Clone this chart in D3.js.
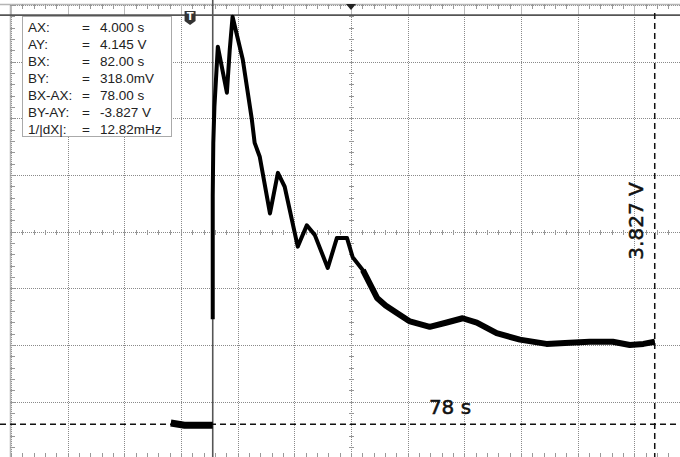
<!DOCTYPE html>
<html lang="en">

<head>
	<meta charset="utf-8">
	<title>Scope capture</title>
	<script type="text/javascript" src="https://cdn.jsdelivr.net/npm/d3@7"></script>
	<style type="text/css">
		body { margin: 0; background: #fff; }
		svg { display: block; }
	</style>
</head>

<body>
	<script type="text/javascript">
		//Width and height
		var w = 680;
		var h = 457;

		// screen: 12 x 8 divisions, 10 s/div, ~0.53 V/div
		var timeStart = -31.6;
		var secPerDiv = 10;
		var voltPerDiv = 0.53;
		var xDivs = 12;
		var yDivs = 8;

		// trace before trigger (s, V)
		var preTime = [-3.4, -1.0, 4.0];
		var preVolt = [0.33, 0.31, 0.31];

		// trace after trigger (s, V)
		var traceTime = [4.0, 4.0, 4.1, 4.3, 4.9, 6.5, 7.0, 7.5, 9.3, 10.9, 11.4, 12.3,
			14.1, 15.5, 16.7, 19.0, 20.6, 22.0, 24.3, 25.9, 27.7, 28.7, 30.5, 33.0,
			34.5, 36.5, 38.8, 42.3, 45.3, 48.1, 50.6, 54.1, 58.2, 62.9, 67.0, 70.5,
			74.6, 77.6, 80.0, 82.0];
		var traceVolt = [1.30, 2.45, 2.95, 3.29, 3.85, 3.42, 3.82, 4.13, 3.73, 3.17, 2.95, 2.82,
			2.29, 2.67, 2.54, 1.98, 2.18, 2.09, 1.78, 2.06, 2.06, 1.88, 1.76, 1.50,
			1.43, 1.36, 1.28, 1.23, 1.27, 1.31, 1.27, 1.17, 1.11, 1.07, 1.08, 1.09,
			1.09, 1.06, 1.07, 1.09];
		// after this time the trace gets noisier (thicker band)
		var noisyFrom = 30.5;

		// cursors
		var cursorA = { t: 4.0, v: 4.145 };
		var cursorB = { t: 82.0, v: 0.318 };

		// readout box
		var readNames = ["AX:", "AY:", "BX:", "BY:", "BX-AX:", "BY-AY:", "1/|dX|:"];
		var readValues = ["4.000 s", "4.145 V", "82.00 s", "318.0mV", "78.00 s", "-3.827 V", "12.82mHz"];

		var deltaTLabel = "78 s";
		var deltaVLabel = "3.827 V";

		// scales
		var xScale = d3.scaleLinear()
			.domain([timeStart, timeStart + xDivs * secPerDiv])
			.range([11, 691]);

		var yScale = d3.scaleLinear()
			.domain([0, yDivs * voltPerDiv])
			.range([458.3, 5]);

		//Create SVG element
		var svg = d3.select("body")
			.append("svg")
			.attr("width", w)
			.attr("height", h);

		var xMajor = d3.range(xDivs + 1).map(function (i) { return timeStart + i * secPerDiv; });
		var yMajor = d3.range(yDivs + 1).map(function (i) { return i * voltPerDiv; });
		var xMinor = d3.range(xDivs * 5 + 1).map(function (i) { return timeStart + i * secPerDiv / 5; });
		var yMinor = d3.range(yDivs * 5 + 1).map(function (i) { return i * voltPerDiv / 5; });

		var xMid = timeStart + xDivs / 2 * secPerDiv;
		var yMid = yDivs / 2 * voltPerDiv;

		// dotted grid
		svg.append("g")
			.selectAll("line")
			.data(xMajor)
			.enter()
			.append("line")
			.attr("x1", function (d) { return Math.round(xScale(d)) + 0.5; })
			.attr("x2", function (d) { return Math.round(xScale(d)) + 0.5; })
			.attr("y1", yScale.range()[1])
			.attr("y2", yScale.range()[0])
			.attr("stroke", "#8a8a8a")
			.attr("stroke-dasharray", "1,1");

		svg.append("g")
			.selectAll("line")
			.data(yMajor)
			.enter()
			.append("line")
			.attr("y1", function (d) { return Math.round(yScale(d)) + 0.5; })
			.attr("y2", function (d) { return Math.round(yScale(d)) + 0.5; })
			.attr("x1", 11)
			.attr("x2", w)
			.attr("stroke", "#8a8a8a")
			.attr("stroke-dasharray", "1,1");

		// border rulers
		svg.append("line")
			.attr("x1", 0).attr("x2", w)
			.attr("y1", 4.5).attr("y2", 4.5)
			.attr("stroke", "#b5b5b5").attr("stroke-width", 1.5);
		svg.append("line")
			.attr("x1", 10.5).attr("x2", 10.5)
			.attr("y1", 4).attr("y2", h)
			.attr("stroke", "#b5b5b5").attr("stroke-width", 1.5);

		// minor ticks: top and bottom edges, centre lines
		var ticks = svg.append("g").attr("stroke", "#999");
		xMinor.forEach(function (d) {
			var x = Math.round(xScale(d)) + 0.5;
			ticks.append("line").attr("x1", x).attr("x2", x).attr("y1", 4).attr("y2", 9);
			ticks.append("line").attr("x1", x).attr("x2", x).attr("y1", 453).attr("y2", 458);
			ticks.append("line").attr("x1", x).attr("x2", x)
				.attr("y1", Math.round(yScale(yMid)) - 2).attr("y2", Math.round(yScale(yMid)) + 3);
		});
		xMajor.forEach(function (d) {
			var x = Math.round(xScale(d)) + 0.5;
			ticks.append("line").attr("x1", x).attr("x2", x).attr("y1", 4).attr("y2", 15).attr("stroke", "#bbb");
		});
		yMinor.forEach(function (d) {
			var y = Math.round(yScale(d)) + 0.5;
			ticks.append("line").attr("y1", y).attr("y2", y).attr("x1", 10).attr("x2", 15);
			ticks.append("line").attr("y1", y).attr("y2", y)
				.attr("x1", Math.round(xScale(xMid)) - 2).attr("x2", Math.round(xScale(xMid)) + 3);
		});

		// cursor A (solid)
		svg.append("line")
			.attr("x1", xScale(cursorA.t)).attr("x2", xScale(cursorA.t))
			.attr("y1", 0).attr("y2", h)
			.attr("stroke", "#555").attr("stroke-width", 1.6);
		svg.append("line")
			.attr("x1", 0).attr("x2", w)
			.attr("y1", yScale(cursorA.v)).attr("y2", yScale(cursorA.v))
			.attr("stroke", "#555").attr("stroke-width", 1.6);

		// cursor B (dashed)
		svg.append("line")
			.attr("x1", xScale(cursorB.t)).attr("x2", xScale(cursorB.t))
			.attr("y1", 13).attr("y2", h)
			.attr("stroke", "#111").attr("stroke-width", 1.5)
			.attr("stroke-dasharray", "6,4");
		svg.append("line")
			.attr("x1", 0).attr("x2", w)
			.attr("y1", yScale(cursorB.v)).attr("y2", yScale(cursorB.v))
			.attr("stroke", "#111").attr("stroke-width", 1.5)
			.attr("stroke-dasharray", "6,4");

		// trace
		var line = d3.line()
			.x(function (d) { return xScale(d[0]); })
			.y(function (d) { return yScale(d[1]); });

		var tracePts = d3.zip(traceTime, traceVolt);

		svg.append("path")
			.attr("d", line(d3.zip(preTime, preVolt)))
			.attr("fill", "none")
			.attr("stroke", "#000")
			.attr("stroke-width", 7);

		svg.append("path")
			.attr("d", line(tracePts))
			.attr("fill", "none")
			.attr("stroke", "#000")
			.attr("stroke-width", 4)
			.attr("stroke-linejoin", "round");

		svg.append("path")
			.attr("d", line(tracePts.filter(function (d) { return d[0] >= noisyFrom; })))
			.attr("fill", "none")
			.attr("stroke", "#000")
			.attr("stroke-width", 6)
			.attr("stroke-linejoin", "round");

		// trigger position marker (T)
		var tx = xScale(0);
		svg.append("path")
			.attr("d", "M" + (tx - 5.5) + ",11 h11 v10 l-5.5,4 l-5.5,-4 Z")
			.attr("fill", "#333");
		svg.append("text")
			.attr("x", tx).attr("y", 20)
			.attr("text-anchor", "middle")
			.attr("font-family", "DejaVu Sans, sans-serif")
			.attr("font-size", "10px")
			.attr("font-weight", "bold")
			.attr("fill", "#fff")
			.text("T");

		// horizontal position marker
		var mx = xScale(xMid);
		svg.append("path")
			.attr("d", "M" + (mx - 5) + ",4 h10 l-5,6 Z")
			.attr("fill", "#222");

		// readout box
		var box = svg.append("g");
		box.append("rect")
			.attr("x", 22.5).attr("y", 16.5)
			.attr("width", 149).attr("height", 120)
			.attr("fill", "#fff")
			.attr("stroke", "#aaa");

		readNames.forEach(function (n, i) {
			var y = 32 + i * 17;
			box.append("text").attr("x", 28).attr("y", y).text(n);
			box.append("text").attr("x", 82).attr("y", y).text("=");
			box.append("text").attr("x", 100).attr("y", y).text(readValues[i]);
		});
		box.selectAll("text")
			.attr("font-family", "Liberation Sans, Arial, sans-serif")
			.attr("font-size", "13.5px")
			.attr("fill", "#222");

		// delta labels
		svg.append("text")
			.attr("x", 450).attr("y", 414)
			.attr("text-anchor", "middle")
			.attr("font-family", "DejaVu Sans, sans-serif")
			.attr("font-size", "20px")
			.attr("fill", "#111")
			.attr("stroke", "#111")
			.attr("stroke-width", 0.5)
			.text(deltaTLabel);

		svg.append("text")
			.attr("transform", "translate(643,221) rotate(-90)")
			.attr("text-anchor", "middle")
			.attr("font-family", "DejaVu Sans, sans-serif")
			.attr("font-size", "20px")
			.attr("fill", "#111")
			.attr("stroke", "#111")
			.attr("stroke-width", 0.5)
			.text(deltaVLabel);
	</script>
</body>

</html>
